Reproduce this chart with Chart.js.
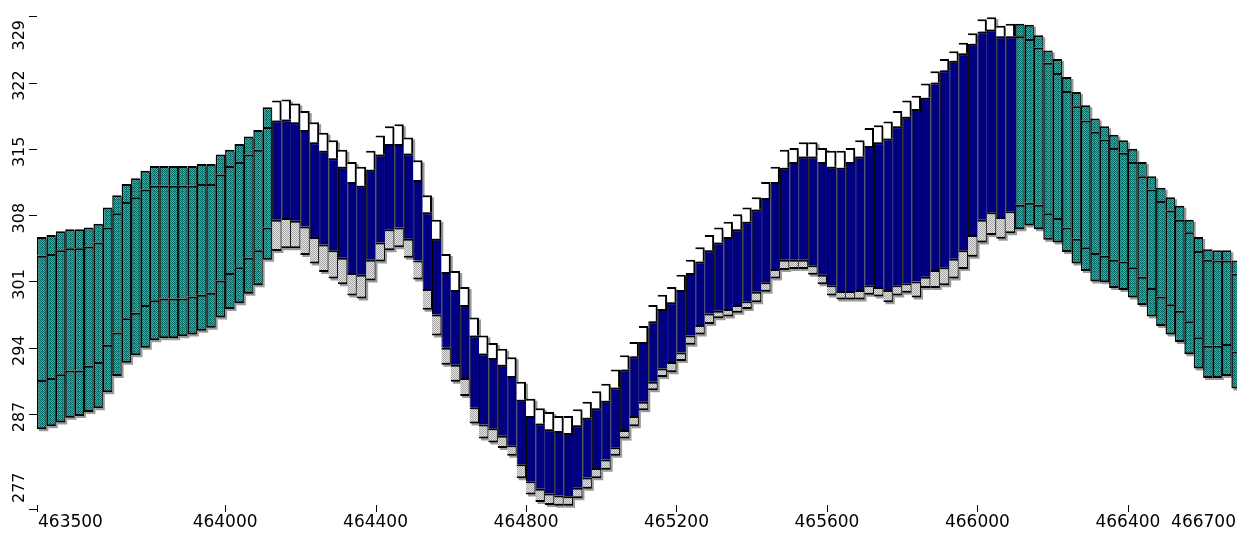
<!DOCTYPE html>
<html>
<head>
<meta charset="utf-8">
<script src="https://cdn.jsdelivr.net/npm/chart.js@4.4.1/dist/chart.umd.min.js"></script>
<style>
  html, body { margin: 0; padding: 0; background: #fff; overflow: hidden; }
  #wrap { width: 1237px; height: 533px; }
</style>
</head>
<body>
<div id="wrap"><canvas id="section" width="1237" height="533"></canvas></div>
<script>
// columns every 25 m along the profile
const firstEasting = 463500;
const columnStep = 25;
// lens (blue unit) runs between these eastings
const lensStart = 464125;
const lensEnd = 466075;

// elevations per column (m)
const topElev = [
  305.7, 305.9, 306.3, 306.5, 306.5, 306.7, 307.1, 308.8, 310.1, 311.3,
  311.9, 312.7, 313.2, 313.2, 313.2, 313.2, 313.2, 313.4, 313.4, 314.4,
  314.9, 315.5, 316.3, 317.0, 319.4,
  320.1, 320.2, 319.8, 319.0, 317.8, 316.7, 315.9, 314.9, 313.6, 313.1,
  314.8, 316.4, 317.4, 317.6, 316.2, 313.8, 310.1, 307.5, 303.9, 302.1,
  300.4, 297.2, 295.3, 294.5, 293.9, 293.0, 290.4, 288.6, 287.6, 287.2,
  286.8, 286.8, 287.5, 288.3, 289.4, 290.2, 291.7, 293.2, 294.6, 296.3,
  298.5, 299.6, 300.4, 301.7, 303.3, 304.6, 305.9, 306.7, 307.3, 308.1,
  308.8, 309.9, 311.5, 313.1, 314.9, 315.1, 315.7, 315.7, 315.1, 314.8,
  314.8, 315.1, 315.9, 317.2, 317.5, 317.9, 319.0, 320.1, 320.6, 321.9,
  323.2, 324.5, 325.3, 326.2, 327.2, 328.7, 328.9, 328.0, 328.2,
  328.2, 328.1, 327.0, 325.4, 324.5, 322.6, 321.0, 319.6, 318.2, 317.4,
  316.5, 315.9, 315.0, 313.6, 312.1, 310.9, 309.9, 309.0, 307.5, 305.7,
  304.4, 304.3, 304.3, 303.2
];
const upperBase = [
  303.7, 303.9, 304.3, 304.5, 304.5, 304.7, 305.1, 306.7, 308.2, 309.4,
  309.9, 310.7, 311.1, 311.1, 311.1, 311.1, 311.1, 311.3, 311.3, 312.3,
  313.2, 313.6, 314.4, 314.9, 317.3,
  318.0, 318.1, 317.8, 317.0, 315.7, 314.8, 314.0, 313.1, 311.5, 311.1,
  312.8, 314.4, 315.5, 315.5, 314.5, 311.7, 308.3, 305.5, 302.0, 300.1,
  298.5, 295.3, 293.4, 292.9, 292.2, 291.0, 288.5, 286.8, 286.0, 285.4,
  285.2, 285.0, 285.8, 286.6, 287.6, 288.4, 289.8, 291.7, 293.1, 294.6,
  296.8, 298.1, 298.8, 300.1, 301.9, 303.1, 304.3, 305.1, 305.7, 306.5,
  307.3, 308.6, 309.8, 311.5, 313.0, 313.6, 314.2, 314.2, 313.6, 313.1,
  313.0, 313.6, 314.2, 315.3, 315.7, 316.1, 317.4, 318.4, 319.2, 320.4,
  322.0, 323.3, 324.3, 325.1, 326.1, 327.4, 327.6, 326.9, 326.9,
  326.9, 326.6, 325.7, 324.1, 323.0, 321.1, 319.5, 318.0, 316.8, 316.0,
  315.1, 314.6, 313.6, 312.1, 310.7, 309.5, 308.5, 307.5, 306.2, 304.2,
  303.3, 303.2, 303.2, 301.8
];
const lowerBase = [
  290.6, 290.8, 291.2, 291.6, 291.6, 292.1, 292.5, 294.3, 295.6, 297.1,
  297.7, 298.5, 299.0, 299.2, 299.2, 299.2, 299.4, 299.6, 299.8, 301.1,
  301.9, 302.5, 303.5, 304.3, 306.7,
  307.5, 307.7, 307.4, 306.8, 305.7, 304.9, 304.3, 303.5, 301.9, 301.7,
  303.3, 305.1, 306.5, 306.7, 305.5, 303.2, 300.2, 297.5, 294.0, 292.2,
  290.8, 287.7, 285.9, 285.5, 284.7, 283.7, 281.7, 279.9, 279.1, 278.6,
  278.4, 278.3, 279.2, 280.3, 281.3, 282.2, 283.5, 285.3, 286.8, 288.3,
  290.4, 291.8, 292.5, 293.5, 295.3, 296.4, 297.6, 297.9, 298.1, 298.5,
  298.9, 299.9, 300.9, 302.3, 303.3, 303.3, 303.3, 302.7, 301.7, 300.6,
  300.0, 300.0, 300.1, 300.6, 300.4, 300.1, 300.6, 300.8, 301.0, 301.5,
  302.2, 302.5, 303.4, 304.3, 305.9, 307.5, 308.3, 307.8, 308.4,
  309.1, 309.3, 309.1, 308.2, 307.7, 306.7, 305.5, 304.6, 304.0, 303.7,
  303.3, 303.1, 302.5, 301.5, 300.3, 299.4, 298.6, 297.9, 296.8, 295.1,
  294.2, 294.2, 294.4, 293.6
];
const baseElev = [
  285.4, 285.7, 286.1, 286.6, 286.8, 287.2, 287.6, 289.3, 291.0, 292.4,
  293.2, 294.0, 294.8, 295.0, 295.0, 295.2, 295.4, 295.8, 296.1, 297.2,
  298.1, 298.7, 299.7, 300.6, 303.3,
  304.2, 304.5, 304.5, 303.8, 302.9, 302.0, 301.3, 300.7, 299.5, 299.2,
  301.1, 303.1, 304.3, 304.6, 303.5, 301.2, 298.0, 295.3, 292.2, 290.4,
  288.9, 286.0, 284.4, 284.0, 283.4, 282.6, 280.2, 278.5, 277.7, 277.4,
  277.3, 277.3, 278.1, 279.1, 280.2, 281.1, 282.6, 284.4, 285.7, 287.4,
  289.5, 290.9, 291.4, 292.6, 294.3, 295.4, 296.5, 297.1, 297.3, 297.7,
  298.1, 298.8, 299.9, 301.3, 302.2, 302.3, 302.3, 301.7, 300.7, 299.5,
  299.1, 299.1, 299.1, 299.6, 299.4, 298.8, 299.5, 299.8, 299.3, 300.3,
  300.3, 300.6, 301.3, 302.3, 303.6, 305.1, 305.9, 305.5, 306.1,
  306.5, 306.9, 306.5, 305.4, 305.1, 304.1, 302.9, 302.1, 301.0, 300.9,
  300.3, 300.1, 299.3, 298.5, 297.3, 296.3, 295.4, 294.6, 293.3, 291.8,
  290.8, 290.8, 291.0, 289.7
];

// axis labels
const xTickValues = [463500, 464000, 464400, 464800, 465200, 465600, 466000, 466400, 466700];
const yTickValues = [277, 287, 294, 301, 308, 315, 322, 329];

const eastings = topElev.map((_, i) => firstEasting + i * columnStep);
const inLens = (e) => e >= lensStart && e <= lensEnd;

function layer(lowArr, highArr, pick) {
  const out = [];
  eastings.forEach((e, i) => {
    if (pick(e)) out.push({ x: e + columnStep / 2, y: [lowArr[i], highArr[i]] });
  });
  return out;
}

// dithered fills like the original
function pattern(rows) {
  const c = document.createElement("canvas");
  c.width = rows[0].length;
  c.height = rows.length;
  const g = c.getContext("2d");
  rows.forEach((row, y) => row.forEach((col, x) => {
    g.fillStyle = col;
    g.fillRect(x, y, 1, 1);
  }));
  return g.createPattern(c, "repeat");
}
const T = "#006c68", L = "#6c9a96", R = "#944444", C = "#38bcbc";
const tealFill = pattern([
  [T, L, T, L],
  [L, T, L, T],
  [T, L, T, C],
  [L, T, R, T],
]);
const G1 = "#a6a6a6", G2 = "#e4e4e4";
const grayFill = pattern([
  [G1, G2],
  [G2, G1],
]);

const common = {
  grouped: false,
  barPercentage: 1,
  categoryPercentage: 1,
  borderSkipped: false,
  borderColor: "#000",
  inflateAmount: 0,
};

const shiftShadow = {
  id: "shiftShadow",
  beforeDatasetDraw(chart, args) {
    if (chart.data.datasets[args.index].isShadow) {
      chart.ctx.save();
      chart.ctx.translate(2, 2);
    }
  },
  afterDatasetDraw(chart, args) {
    if (chart.data.datasets[args.index].isShadow) chart.ctx.restore();
  },
};

const axisLabels = {
  id: "axisLabels",
  afterDraw(chart) {
    const ctx = chart.ctx;
    const xs = chart.scales.x;
    const ys = chart.scales.y;
    ctx.save();
    ctx.fillStyle = "#000";
    ctx.strokeStyle = "#000";
    ctx.lineWidth = 1;

    ctx.font = "17px 'DejaVu Sans'";
    ctx.textBaseline = "middle";
    xTickValues.forEach((v, i) => {
      const px = xs.getPixelForValue(v);
      if (px < chart.width) {
        ctx.beginPath();
        ctx.moveTo(Math.round(px) + 0.5, 505);
        ctx.lineTo(Math.round(px) + 0.5, 512);
        ctx.stroke();
      }
      if (i === 0) {
        ctx.textAlign = "left";
        ctx.fillText(String(v), px + 1, 523);
      } else if (i === xTickValues.length - 1) {
        ctx.textAlign = "right";
        ctx.fillText(String(v), chart.width - 1, 523);
      } else {
        ctx.textAlign = "center";
        ctx.fillText(String(v), px, 523);
      }
    });

    ctx.font = "16px 'DejaVu Sans'";
    yTickValues.forEach((v) => {
      const py = ys.getPixelForValue(v);
      ctx.beginPath();
      ctx.moveTo(29, Math.round(py) + 0.5);
      ctx.lineTo(37, Math.round(py) + 0.5);
      ctx.stroke();
      const half = ctx.measureText(String(v)).width / 2;
      const cy = Math.min(Math.max(py + 3, 20 + half), 503 - half);
      ctx.save();
      ctx.translate(20, cy);
      ctx.rotate(-Math.PI / 2);
      ctx.textAlign = "center";
      ctx.fillText(String(v), 0, 0);
      ctx.restore();
    });
    ctx.restore();
  },
};

new Chart(document.getElementById("section"), {
  type: "bar",
  data: {
    datasets: [
      {
        ...common,
        label: "Sand (upper)",
        data: layer(upperBase, topElev, (e) => !inLens(e)),
        backgroundColor: tealFill,
        borderWidth: { top: 2, left: 1.5, right: 1, bottom: 0 },
      },
      {
        ...common,
        label: "Sand (middle)",
        data: layer(lowerBase, upperBase, (e) => !inLens(e)),
        backgroundColor: tealFill,
        borderWidth: { top: 2, left: 1.5, right: 1, bottom: 0 },
      },
      {
        ...common,
        label: "Sand (lower)",
        data: layer(baseElev, lowerBase, (e) => !inLens(e)),
        backgroundColor: tealFill,
        borderWidth: { top: 2, left: 1.5, right: 1, bottom: 2 },
      },
      {
        ...common,
        label: "Cover",
        data: layer(upperBase, topElev, inLens),
        backgroundColor: "#ffffff",
        borderWidth: { top: 2, left: 0, right: 2, bottom: 0 },
      },
      {
        ...common,
        label: "Clay lens",
        data: layer(lowerBase, upperBase, inLens),
        backgroundColor: "#000080",
        borderWidth: { top: 2, left: 1, right: 0, bottom: 0 },
      },
      {
        ...common,
        label: "Gravel",
        data: layer(baseElev, lowerBase, inLens),
        backgroundColor: grayFill,
        borderWidth: { top: 2, left: 0, right: 1, bottom: 2 },
      },
      {
        ...common,
        label: "shadow",
        isShadow: true,
        order: 5,
        data: layer(baseElev, topElev, () => true),
        backgroundColor: "#9a9a9a",
        borderWidth: 0,
      },
    ],
  },
  options: {
    responsive: false,
    animation: false,
    layout: { padding: { left: 37, right: 0, top: 0, bottom: 23 } },
    plugins: { legend: { display: false }, tooltip: { enabled: false } },
    scales: {
      x: { type: "linear", display: false, offset: false, min: 463500, max: 466690 },
      y: { type: "linear", display: false, min: 276.86, max: 330.72 },
    },
  },
  plugins: [shiftShadow, axisLabels],
});
</script>
</body>
</html>
